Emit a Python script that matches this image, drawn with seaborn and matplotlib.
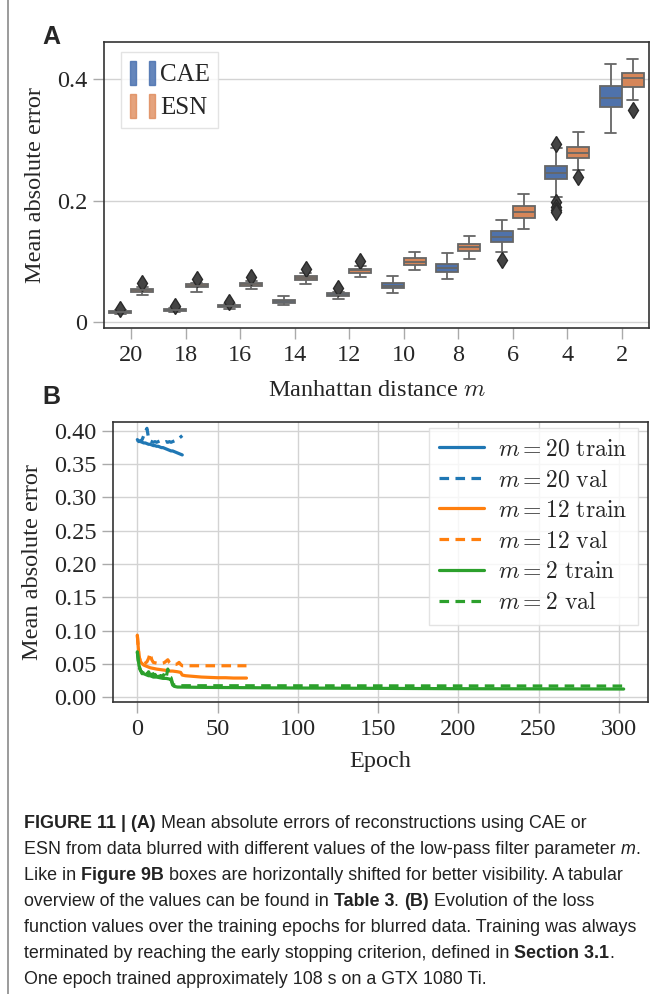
import numpy as np
import pandas as pd
import matplotlib
matplotlib.use("Agg")
import matplotlib.pyplot as plt
import seaborn as sns
from matplotlib.patches import Patch
from matplotlib.legend_handler import HandlerTuple
from matplotlib.lines import Line2D

# ---------------- Panel A data (box statistics) ----------------
m_values = ["20", "18", "16", "14", "12", "10", "8", "6", "4", "2"]
models = ["CAE", "ESN"]

cae_wlo = [0.0135, 0.0165, 0.022, 0.028, 0.038, 0.048, 0.071, 0.115, 0.205, 0.311]
cae_q1 = [0.0155, 0.0185, 0.0245, 0.031, 0.0425, 0.056, 0.082, 0.132, 0.235, 0.354]
cae_med = [0.0165, 0.0198, 0.026, 0.0345, 0.045, 0.060, 0.089, 0.140, 0.245, 0.369]
cae_q3 = [0.0175, 0.021, 0.0275, 0.037, 0.0475, 0.064, 0.0955, 0.150, 0.257, 0.388]
cae_whi = [0.0195, 0.0225, 0.030, 0.042, 0.050, 0.0757, 0.1136, 0.168, 0.287, 0.425]
cae_out = [[0.0215], [0.0262], [0.033], [], [0.0565], [], [], [0.102],
           [0.293, 0.198, 0.190, 0.184, 0.181], []]

esn_wlo = [0.044, 0.050, 0.054, 0.0625, 0.074, 0.0856, 0.104, 0.153, 0.250, 0.365]
esn_q1 = [0.050, 0.057, 0.060, 0.069, 0.081, 0.094, 0.117, 0.171, 0.270, 0.387]
esn_med = [0.0525, 0.059, 0.0625, 0.073, 0.085, 0.099, 0.123, 0.181, 0.278, 0.402]
esn_q3 = [0.055, 0.062, 0.065, 0.076, 0.088, 0.105, 0.128, 0.191, 0.288, 0.410]
esn_whi = [0.058, 0.064, 0.068, 0.080, 0.092, 0.115, 0.1416, 0.211, 0.313, 0.433]
esn_out = [[0.064], [0.071], [0.074], [0.088], [0.100], [], [], [], [0.239], [0.349]]

# ---------------- Panel B data (loss curves) ----------------
m20_train_ep = list(range(0, 29))
m20_train = [0.387, 0.385, 0.384, 0.383, 0.382, 0.382, 0.381, 0.380, 0.380, 0.379,
             0.378, 0.378, 0.377, 0.377, 0.376, 0.375, 0.375, 0.374, 0.373, 0.372,
             0.371, 0.370, 0.370, 0.369, 0.368, 0.367, 0.366, 0.365, 0.364]
m20_val_ep = list(range(0, 29))
m20_val = [0.386, 0.384, 0.385, 0.387, 0.393, 0.399, 0.404, 0.389, 0.385, 0.384,
           0.383, 0.384, 0.383, 0.384, 0.385, 0.384, 0.383, 0.383, 0.384, 0.383,
           0.384, 0.383, 0.384, 0.385, 0.386, 0.387, 0.389, 0.391, 0.393]

m12_train_ep = [0, 1, 2, 3, 4, 5, 6, 8, 10, 12, 15, 18, 20, 22, 25, 27, 28, 30, 35,
                40, 45, 50, 55, 60, 65, 68]
m12_train = [0.093, 0.062, 0.053, 0.050, 0.048, 0.047, 0.046, 0.044, 0.043, 0.042,
             0.041, 0.040, 0.039, 0.039, 0.038, 0.037, 0.033, 0.032, 0.031, 0.030,
             0.0295, 0.029, 0.029, 0.0285, 0.0285, 0.0285]
m12_val_ep = [0, 1, 2, 3, 4, 5, 6, 7, 8, 9, 10, 12, 14, 16, 17, 18, 19, 20, 21, 22,
              24, 25, 26, 27, 28, 68]
m12_val = [0.093, 0.062, 0.052, 0.050, 0.050, 0.051, 0.053, 0.058, 0.066, 0.056,
           0.052, 0.051, 0.050, 0.051, 0.052, 0.054, 0.056, 0.052, 0.050, 0.049,
           0.049, 0.050, 0.052, 0.049, 0.047, 0.047]

m2_train_ep = [0, 1, 2, 3, 4, 5, 6, 7, 8, 9, 10, 12, 14, 16, 18, 20, 21, 22, 23, 25,
               40, 100, 200, 303]
m2_train = [0.068, 0.048, 0.040, 0.037, 0.035, 0.034, 0.033, 0.032, 0.032, 0.031,
            0.030, 0.030, 0.029, 0.028, 0.028, 0.027, 0.026, 0.018, 0.016, 0.015,
            0.0145, 0.0135, 0.0125, 0.012]
m2_val_ep = [0, 1, 2, 3, 4, 5, 6, 7, 8, 9, 10, 11, 12, 13, 14, 15, 16, 17, 18, 19,
             20, 21, 22, 23, 24, 303]
m2_val = [0.068, 0.045, 0.040, 0.035, 0.042, 0.036, 0.034, 0.038, 0.033, 0.040,
          0.032, 0.034, 0.031, 0.038, 0.030, 0.032, 0.031, 0.036, 0.030, 0.042,
          0.030, 0.029, 0.020, 0.018, 0.017, 0.0165]

legend_labels_B = [r"$m = 20\ \mathrm{train}$", r"$m = 20\ \mathrm{val}$",
                   r"$m = 12\ \mathrm{train}$", r"$m = 12\ \mathrm{val}$",
                   r"$m = 2\ \mathrm{train}$", r"$m = 2\ \mathrm{val}$"]

caption_lines = [
    [("FIGURE 11 | (A)", "bold", "normal"), (" Mean absolute errors of reconstructions using CAE or", "normal", "normal")],
    [("ESN from data blurred with different values of the low-pass filter parameter ", "normal", "normal"), ("m", "normal", "italic"), (".", "normal", "normal")],
    [("Like in ", "normal", "normal"), ("Figure 9B", "bold", "normal"), (" boxes are horizontally shifted for better visibility. A tabular", "normal", "normal")],
    [("overview of the values can be found in ", "normal", "normal"), ("Table 3", "bold", "normal"), (". ", "normal", "normal"), ("(B)", "bold", "normal"), (" Evolution of the loss", "normal", "normal")],
    [("function values over the training epochs for blurred data. Training was always", "normal", "normal")],
    [("terminated by reaching the early stopping criterion, defined in ", "normal", "normal"), ("Section 3.1", "bold", "normal"), (".", "normal", "normal")],
    [("One epoch trained approximately 108 s on a GTX 1080 Ti.", "normal", "normal")],
]

# ---------------- style ----------------
sns.set_theme(style="whitegrid")
plt.rcParams["font.family"] = ["Liberation Serif", "DejaVu Serif"]
plt.rcParams["mathtext.fontset"] = "cm"
plt.rcParams["font.size"] = 17

W, H = 650, 994
fig = plt.figure(figsize=(W / 100, H / 100), dpi=100)


def frac_axes(left, top, right, bottom):
    return fig.add_axes([left / W, 1 - bottom / H, (right - left) / W, (bottom - top) / H])


axA = frac_axes(104, 42, 649, 328)
axB = frac_axes(113, 422, 648, 702)

# ---------------- Panel A ----------------
rows = []


def obs(wlo, q1, med, q3, whi, outs):
    return [wlo] + [q1] * 20 + [med] * 10 + [q3] * 20 + [whi] + list(outs)


for i, m in enumerate(m_values):
    for v in obs(cae_wlo[i], cae_q1[i], cae_med[i], cae_q3[i], cae_whi[i], cae_out[i]):
        rows.append((m, "CAE", v))
    for v in obs(esn_wlo[i], esn_q1[i], esn_med[i], esn_q3[i], esn_whi[i], esn_out[i]):
        rows.append((m, "ESN", v))
dfA = pd.DataFrame(rows, columns=["m", "model", "mae"])

colA = {"CAE": "#4a71b0", "ESN": "#dd8452"}
sns.boxplot(data=dfA, x="m", y="mae", hue="model", order=m_values, hue_order=models,
            palette=colA, saturation=0.9, width=0.8, gap=0, linecolor="#666666",
            linewidth=1.3, whis=1.5,
            flierprops=dict(marker="d", markerfacecolor="#444444",
                            markeredgecolor="#2a2a2a", markersize=8),
            legend=False, ax=axA)
axA.set_xlim(-0.5, 9.5)
axA.set_ylim(-0.0099, 0.461)
axA.set_yticks([0, 0.2, 0.4])
axA.set_yticklabels(["0", "0.2", "0.4"])
axA.grid(axis="y", color="#d3d3d3", lw=1)
axA.grid(axis="x", visible=False)
axA.set_xlabel("Manhattan distance $m$", fontsize=17.5, labelpad=10)
axA.set_ylabel("Mean absolute error", fontsize=17.5, labelpad=8)
axA.tick_params(axis="both", direction="out", length=8, width=1, color="#aaaaaa",
                labelsize=17.5, pad=4, left=True, bottom=True)
for s in axA.spines.values():
    s.set_color("#333333")
    s.set_linewidth(1.2)

hA = [(Patch(color=colA["CAE"], alpha=0.85), Patch(color=colA["CAE"], alpha=0.85)),
      (Patch(color=colA["ESN"], alpha=0.75), Patch(color=colA["ESN"], alpha=0.75))]
legA = axA.legend(hA, models, loc="upper left", fontsize=18, frameon=True,
                  handler_map={tuple: HandlerTuple(ndivide=None, pad=0.5)},
                  handlelength=1.0, handleheight=1.1, handletextpad=0.2,
                  borderpad=0.35, labelspacing=0.3, borderaxespad=0,
                  bbox_to_anchor=(17 / 545, 1 - 10 / 286), fancybox=False)
legA.get_frame().set_edgecolor("#dddddd")

# ---------------- Panel B ----------------
series = [
    (m20_train_ep, m20_train, "tab:blue", "-"),
    (m20_val_ep, m20_val, "tab:blue", "--"),
    (m12_train_ep, m12_train, "tab:orange", "-"),
    (m12_val_ep, m12_val, "tab:orange", "--"),
    (m2_train_ep, m2_train, "tab:green", "-"),
    (m2_val_ep, m2_val, "tab:green", "--"),
]
for (ep, val, c, ls), lab in zip(series, legend_labels_B):
    sns.lineplot(x=ep, y=val, color=c, ax=axB, sort=False, label=lab, lw=2.3,
                 linestyle=ls, dashes=None)
for line in axB.get_lines():
    if line.get_linestyle() == "--":
        line.set_dashes((3, 2))

axB.set_xlim(-15.15, 318.15)
axB.set_ylim(-0.0075, 0.4135)
axB.set_xticks(np.arange(0, 301, 50))
axB.set_yticks(np.arange(0, 0.401, 0.05))
axB.set_yticklabels([f"{v:.2f}" for v in np.arange(0, 0.401, 0.05)])
axB.grid(True, color="#d3d3d3", lw=1)
axB.set_xlabel("Epoch", fontsize=17.5, labelpad=8)
axB.set_ylabel("Mean absolute error", fontsize=17.5, labelpad=8)
axB.tick_params(axis="both", direction="out", length=8, width=1, color="#aaaaaa",
                labelsize=17.5, pad=4, left=True, bottom=True)
for s in axB.spines.values():
    s.set_color("#333333")
    s.set_linewidth(1.2)
legB = axB.legend(loc="upper right", fontsize=17, handlelength=1.9, labelspacing=0.38,
                  borderpad=0.45, handletextpad=0.6, frameon=True, fancybox=False,
                  borderaxespad=0, bbox_to_anchor=(1 - 10 / 535, 1 - 6 / 280))
for lh in legB.get_lines():
    if lh.get_linestyle() == "--":
        lh.set_dashes((3, 2))
legB.get_frame().set_edgecolor("#dddddd")

# ---------------- panel letters, border, caption ----------------
fig.text(42 / W, 1 - 37 / H, "A", fontsize=18, fontweight="bold",
         family=["Liberation Sans", "DejaVu Sans"], va="center", ha="left")
fig.text(42 / W, 1 - 397 / H, "B", fontsize=18, fontweight="bold",
         family=["Liberation Sans", "DejaVu Sans"], va="center", ha="left")
fig.add_artist(Line2D([7.5 / W, 7.5 / W], [0, 1], color="#8a8a8a", lw=1.2))

cap_family = ["Liberation Sans", "DejaVu Sans"]
renderer = fig.canvas.get_renderer()
# fit font size so the longest line spans about 614 px
probe = fig.text(0, 0, "".join(s for s, _, _ in caption_lines[4]), fontsize=10,
                 family=cap_family)
pw = probe.get_window_extent(renderer).width
probe.remove()
cap_fs = 10 * 614 / pw
y0 = 823
for li, line in enumerate(caption_lines):
    x = 24
    y = y0 + li * 26
    for txt, wt, st in line:
        t = fig.text(x / W, 1 - y / H, txt, fontsize=cap_fs, fontweight=wt,
                     fontstyle=st, family=cap_family, va="center", ha="left",
                     color="#222222")
        x += t.get_window_extent(renderer).width

fig.savefig("out.png", dpi=100)
